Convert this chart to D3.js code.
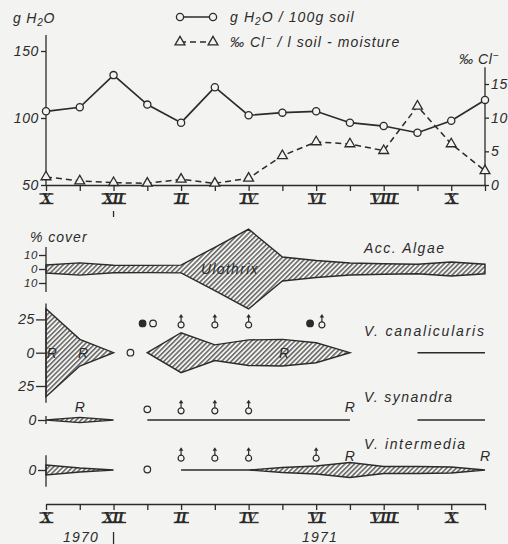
<!DOCTYPE html>
<html>
<head>
<meta charset="utf-8">
<script src="https://cdn.jsdelivr.net/npm/d3@7"></script>
<style>
body { margin: 0; background: #f3f3f1; }
svg text { font-family: "Liberation Sans", Arial, sans-serif; font-style: italic; fill: #2b2b2b; }
</style>
</head>
<body>
<svg id="chart" width="508" height="544"></svg>
<script>
// month index 0 = October 1970 ... 13 = November 1971
var months = ["X", "XI", "XII", "I", "II", "III", "IV", "V", "VI", "VII", "VIII", "IX", "X", "XI"];
var labelledMonths = [0, 2, 4, 6, 8, 10, 12];

var water = [105, 108, 132, 110, 96.5, 123, 102, 104, 105, 96.5, 94, 89, 98, 113.5];
var chloride = [1.2, 0.6, 0.35, 0.25, 0.85, 0.25, 1.0, 4.35, 6.4, 6.1, 5.1, 11.7, 6.1, 2.1];
var waterTicks = [50, 100, 150];
var chlorTicks = [0, 5, 10, 15];

// % cover, drawn mirrored round the zero line
var algae = [2.9, 4.4, 2.7, 2.6, 2.8, 15.5, 28.5, 8.6, 6.1, 4.3, 3.8, 3.4, 5, 3.4];
var algaeTicks = [10, 0, -10];

var canalicularis = [33, 10, 0, 0, 15, 5.9, 9.6, 10, 7.5, 0, null, 0, 0, 0];
var canalSegments = [[0, 2], [3, 9], [11, 13]];
var canalTicks = [25, 0, -25];

var synandra = [0, 2, 0, 0, 0, 0, 0, 0, 0, 0, null, 0, 0, 0];
var synSegments = [[0, 2], [3, 9], [11, 13]];

var intermedia = [3.7, 1.5, 0, null, 0, 0, 0, 1.9, 3, 5.6, 2.6, 2.6, 2.3, 0];
var interSegments = [[0, 2], [4, 13]];

// marks above the bands: month position and kind
var canalMarks = [[2.86, "filled"], [3.17, "open"], [4, "fertile"], [5, "fertile"], [6, "fertile"], [7.82, "filled"], [8.17, "fertile"]];
var canalZeroMarks = [2.5];
var synMarks = [[3, "open"], [4, "fertile"], [5, "fertile"], [6, "fertile"]];
var interMarks = [[4, "fertile"], [5, "fertile"], [6, "fertile"], [8, "fertile"]];
var interZeroMarks = [3];

var canalR = [0.17, 1.1, 7.05];
var synR = [1, 9];
var interR = [9, 13];

var ink = "#2b2b2b", bg = "#f3f3f1";
var svg = d3.select("#chart");

var x = d3.scaleLinear().domain([0, 13]).range([46, 485]);
var yW = d3.scaleLinear().domain([50, 150]).range([185, 51]);
var yC = d3.scaleLinear().domain([0, 15]).range([185, 84]);
var yA = d3.scaleLinear().domain([-10, 10]).range([283, 255]);
var yV = d3.scaleLinear().domain([-25, 25]).range([386, 319.4]);
var yS = d3.scaleLinear().domain([-25, 25]).range([453.3, 386.7]);
var yI = d3.scaleLinear().domain([-25, 25]).range([503.3, 436.7]);

// hatch
var defs = svg.append("defs");
defs.append("pattern")
    .attr("id", "hatch")
    .attr("patternUnits", "userSpaceOnUse")
    .attr("width", 3.4).attr("height", 10)
    .attr("patternTransform", "rotate(45)")
    .append("line")
    .attr("x1", 0.8).attr("y1", 0).attr("x2", 0.8).attr("y2", 10)
    .attr("stroke", ink).attr("stroke-width", 1.1);

function styleAxis(g, size) {
    g.selectAll("path, line").attr("stroke", ink).attr("stroke-width", 1.3);
    g.selectAll("text").attr("font-size", size || 14).attr("fill", ink)
        .attr("font-family", "Liberation Sans, Arial, sans-serif")
        .attr("font-style", "italic").attr("letter-spacing", 0.6);
}

function vline(xp, y1, y2) {
    svg.append("line").attr("x1", xp).attr("x2", xp).attr("y1", y1).attr("y2", y2)
        .attr("stroke", ink).attr("stroke-width", 1.3);
}

function romanAxis(yPos) {
    var g = svg.append("g").attr("transform", "translate(0," + yPos + ")")
        .call(d3.axisBottom(x).tickValues(d3.range(months.length)).tickSize(6).tickSizeOuter(0).tickFormat(""));
    styleAxis(g);
    labelledMonths.forEach(function(i) {
        var t = svg.append("text")
            .attr("x", x(i)).attr("y", yPos + 18)
            .attr("text-anchor", "middle")
            .style("font-family", "DejaVu Serif, serif")
            .style("font-style", "italic")
            .style("font-weight", "bold")
            .attr("font-size", 12.5)
            .attr("letter-spacing", -0.5)
            .text(months[i]);
        var b = t.node().getBBox();
        [b.y + 3, b.y + b.height - 2.5].forEach(function(yy) {
            svg.append("line").attr("x1", b.x - 1).attr("x2", b.x + b.width + 1)
                .attr("y1", yy).attr("y2", yy).attr("stroke", ink).attr("stroke-width", 1.4);
        });
    });
}

// ---------- top panel ----------
romanAxis(185);
vline(x(2), 211, 217);

var left = svg.append("g").attr("transform", "translate(" + x(0) + ",0)")
    .call(d3.axisLeft(yW).tickValues(waterTicks).tickSize(5).tickPadding(2));
left.select(".domain").remove();
styleAxis(left);
vline(x(0), yW(162), yW(50));

var right = svg.append("g").attr("transform", "translate(" + x(13) + ",0)")
    .call(d3.axisRight(yC).tickValues(chlorTicks).tickSize(4).tickPadding(2));
right.select(".domain").remove();
styleAxis(right);
vline(x(13), yC(17.5), yC(0));

var waterLine = d3.line().x(function(d, i) { return x(i); }).y(function(d) { return yW(d); });
var chlorLine = d3.line().x(function(d, i) { return x(i); }).y(function(d) { return yC(d); });

svg.append("path").datum(chloride).attr("d", chlorLine)
    .attr("fill", "none").attr("stroke", ink).attr("stroke-width", 1.5).attr("stroke-dasharray", "6,4");
svg.append("path").datum(water).attr("d", waterLine)
    .attr("fill", "none").attr("stroke", ink).attr("stroke-width", 1.7);

var tri = d3.symbol().type(d3.symbolTriangle).size(42);
svg.selectAll(".tri").data(chloride).enter().append("path")
    .attr("transform", function(d, i) { return "translate(" + x(i) + "," + yC(d) + ")"; })
    .attr("d", tri).attr("fill", bg).attr("stroke", ink).attr("stroke-width", 1.3);
svg.selectAll(".dot").data(water).enter().append("circle")
    .attr("cx", function(d, i) { return x(i); }).attr("cy", function(d) { return yW(d); })
    .attr("r", 3.6).attr("fill", bg).attr("stroke", ink).attr("stroke-width", 1.3);

// axis titles
var t1 = svg.append("text").attr("x", 13).attr("y", 23).attr("font-size", 14).attr("letter-spacing", 0.8);
t1.append("tspan").text("g H");
t1.append("tspan").attr("font-size", 10).attr("dy", 3).text("2");
t1.append("tspan").attr("dy", -3).text("O");

var t2 = svg.append("text").attr("x", 459).attr("y", 64).attr("font-size", 14).attr("letter-spacing", 0.6);
t2.append("tspan").text("‰ Cl");
t2.append("tspan").attr("font-size", 10).attr("dy", -5).text("−");

// legend
svg.append("line").attr("x1", 180).attr("x2", 213).attr("y1", 17).attr("y2", 17).attr("stroke", ink).attr("stroke-width", 1.7);
[180, 213].forEach(function(xx) {
    svg.append("circle").attr("cx", xx).attr("cy", 17).attr("r", 3.6).attr("fill", bg).attr("stroke", ink).attr("stroke-width", 1.3);
});
svg.append("line").attr("x1", 180).attr("x2", 213).attr("y1", 42).attr("y2", 42).attr("stroke", ink)
    .attr("stroke-width", 1.5).attr("stroke-dasharray", "6,4");
[180, 213].forEach(function(xx) {
    svg.append("path").attr("transform", "translate(" + xx + ",42)").attr("d", tri)
        .attr("fill", bg).attr("stroke", ink).attr("stroke-width", 1.3);
});
var l1 = svg.append("text").attr("x", 230).attr("y", 22).attr("font-size", 14).attr("letter-spacing", 1.1);
l1.append("tspan").text("g H");
l1.append("tspan").attr("font-size", 10).attr("dy", 3).text("2");
l1.append("tspan").attr("dy", -3).text("O / 100g soil");
var l2 = svg.append("text").attr("x", 230).attr("y", 47).attr("font-size", 14).attr("letter-spacing", 1.1);
l2.append("tspan").text("‰ Cl");
l2.append("tspan").attr("font-size", 10).attr("dy", -5).text("−");
l2.append("tspan").attr("dy", 5).text(" / l soil - moisture");

// ---------- algae panel ----------
function bandArea(yScale) {
    return d3.area()
        .x(function(d) { return x(d.i); })
        .y0(function(d) { return yScale(-d.v); })
        .y1(function(d) { return yScale(d.v); });
}

function drawBand(values, segments, yScale) {
    segments.forEach(function(s) {
        var pts = d3.range(s[0], s[1] + 1).map(function(i) { return { i: i, v: values[i] }; });
        svg.append("path").datum(pts).attr("d", bandArea(yScale))
            .attr("fill", "url(#hatch)").attr("stroke", ink).attr("stroke-width", 1.4)
            .attr("stroke-linejoin", "miter");
    });
}

svg.append("text").attr("x", 30).attr("y", 242).attr("font-size", 14).attr("letter-spacing", 1).text("% cover");
var aAxis = svg.append("g").attr("transform", "translate(" + x(0) + ",0)")
    .call(d3.axisLeft(yA).tickValues(algaeTicks).tickSize(7).tickPadding(1).tickFormat(function(d) { return Math.abs(d); }));
aAxis.select(".domain").remove();
styleAxis(aAxis, 11.5);
vline(x(0), yA(15.7), yA(-16.4));
drawBand(algae, [[0, 13]], yA);
svg.append("text").attr("x", 201).attr("y", 274).attr("font-size", 14).attr("letter-spacing", 1.3).text("Ulothrix");
svg.append("text").attr("x", 364).attr("y", 253).attr("font-size", 14).attr("textLength", 80).attr("lengthAdjust", "spacing").text("Acc. Algae");

// ---------- Vaucheria panels ----------
function fertile(xx, yy) {
    var g = svg.append("g").attr("transform", "translate(" + xx + "," + yy + ")");
    g.append("circle").attr("r", 3).attr("fill", bg).attr("stroke", ink).attr("stroke-width", 1.2);
    g.append("line").attr("x1", 0).attr("x2", 0).attr("y1", -3).attr("y2", -8).attr("stroke", ink).attr("stroke-width", 1.2);
    g.append("path").attr("d", "M-2.3,-7.5L0,-11L2.3,-7.5Z").attr("fill", ink);
}
function roundMark(xx, yy, filled) {
    svg.append("circle").attr("cx", xx).attr("cy", yy).attr("r", 3.3)
        .attr("fill", filled ? ink : bg).attr("stroke", ink).attr("stroke-width", 1.2);
}
function drawMarks(marks, yCircle) {
    marks.forEach(function(m) {
        if (m[1] === "fertile") fertile(x(m[0]), yCircle + 1.5);
        else roundMark(x(m[0]), yCircle, m[1] === "filled");
    });
}
function rLabels(list, yy) {
    list.forEach(function(m) {
        svg.append("text").attr("x", x(m)).attr("y", yy).attr("text-anchor", "middle").attr("font-size", 14).text("R");
    });
}

// V. canalicularis
var vAxis = svg.append("g").attr("transform", "translate(" + x(0) + ",0)")
    .call(d3.axisLeft(yV).tickValues(canalTicks).tickSize(10).tickPadding(1).tickFormat(function(d) { return Math.abs(d); }));
vAxis.select(".domain").remove();
styleAxis(vAxis);
vline(x(0), yV(37), yV(-37.5));
drawBand(canalicularis, canalSegments, yV);
drawMarks(canalMarks, yV(22));
canalZeroMarks.forEach(function(m) { roundMark(x(m), yV(0), false); });
rLabels(canalR, yV(0) + 5);
svg.append("text").attr("x", 364).attr("y", 336).attr("font-size", 14).attr("textLength", 120).attr("lengthAdjust", "spacing").text("V. canalicularis");

// V. synandra
var sAxis = svg.append("g").attr("transform", "translate(" + x(0) + ",0)")
    .call(d3.axisLeft(yS).tickValues([0]).tickSize(8).tickPadding(1));
sAxis.select(".domain").remove();
styleAxis(sAxis);
vline(x(0), yS(3), yS(-3));
drawBand(synandra, synSegments, yS);
drawMarks(synMarks, yS(8));
rLabels(synR, yS(8) + 3);
svg.append("text").attr("x", 364).attr("y", 402).attr("font-size", 14).attr("textLength", 88).attr("lengthAdjust", "spacing").text("V. synandra");

// V. intermedia
var iAxis = svg.append("g").attr("transform", "translate(" + x(0) + ",0)")
    .call(d3.axisLeft(yI).tickValues([0]).tickSize(8).tickPadding(1));
iAxis.select(".domain").remove();
styleAxis(iAxis);
vline(x(0), yI(11), yI(-12.5));
drawBand(intermedia, interSegments, yI);
drawMarks(interMarks, yI(10));
interZeroMarks.forEach(function(m) { roundMark(x(m), yI(0) - 0.5, false); });
rLabels(interR, yI(10) + 4);
svg.append("text").attr("x", 364).attr("y", 449).attr("font-size", 14).attr("textLength", 101).attr("lengthAdjust", "spacing").text("V. intermedia");

// ---------- bottom axis ----------
romanAxis(504);
vline(x(2), 532, 544);
svg.append("text").attr("x", 63).attr("y", 542).attr("font-size", 14).attr("letter-spacing", 1.2).text("1970");
svg.append("text").attr("x", 302).attr("y", 542).attr("font-size", 14).attr("letter-spacing", 1.2).text("1971");
</script>
</body>
</html>
